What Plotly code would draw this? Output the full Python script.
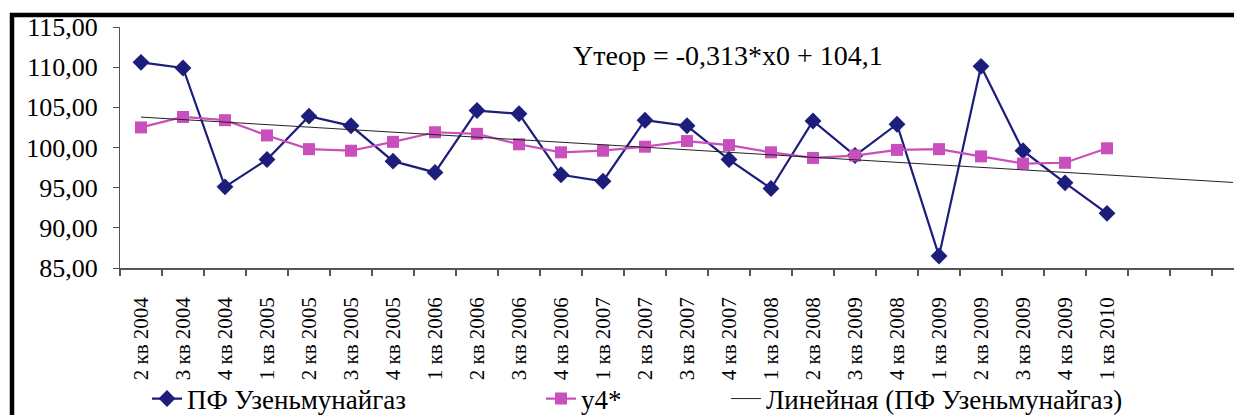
import plotly.graph_objects as go

# ---- data ----
categories = ["2 кв 2004", "3 кв 2004", "4 кв 2004", "1 кв 2005", "2 кв 2005", "3 кв 2005",
              "4 кв 2005", "1 кв 2006", "2 кв 2006", "3 кв 2006", "4 кв 2006", "1 кв 2007",
              "2 кв 2007", "3 кв 2007", "4 кв 2007", "1 кв 2008", "2 кв 2008", "3 кв 2009",
              "4 кв 2008", "1 кв 2009", "2 кв 2009", "3 кв 2009", "4 кв 2009", "1 кв 2010"]
uzen_values = [110.6, 109.9, 95.1, 98.5, 103.9, 102.7, 98.3, 96.9, 104.6, 104.2, 96.6, 95.8,
               103.4, 102.7, 98.5, 94.9, 103.3, 99.0, 102.9, 86.5, 110.1, 99.6, 95.6, 91.8]
y4_values = [102.5, 103.8, 103.4, 101.5, 99.8, 99.6, 100.7, 101.9, 101.7, 100.4, 99.4, 99.6,
             100.1, 100.8, 100.3, 99.4, 98.7, 99.0, 99.7, 99.8, 98.9, 98.0, 98.1, 99.9]
trend_slope = -0.313
trend_intercept = 104.1
trend_last_period = 27  # trendline forecast forward 3 periods

series_names = ["ПФ Узеньмунайгаз", "у4*", "Линейная (ПФ Узеньмунайгаз)"]
equation_text = "Yтеор = -0,313*x0 + 104,1"

# ---- build ----
x_idx = list(range(1, len(categories) + 1))
trend_x = [1, trend_last_period]
trend_y = [trend_slope * v + trend_intercept for v in trend_x]

FONT = "Liberation Serif"
BLUE = "#1d1d7c"
PINK = "#c94fbc"

fig = go.Figure()
fig.add_trace(go.Scatter(
    x=x_idx, y=uzen_values, name=series_names[0], mode="lines+markers",
    line=dict(color=BLUE, width=2.2),
    marker=dict(symbol="diamond", size=13, color=BLUE),
    legend="legend"))
fig.add_trace(go.Scatter(
    x=x_idx, y=y4_values, name=series_names[1], mode="lines+markers",
    line=dict(color=PINK, width=2.2),
    marker=dict(symbol="square", size=12, color=PINK),
    legend="legend2"))
fig.add_trace(go.Scatter(
    x=trend_x, y=trend_y, name=series_names[2], mode="lines",
    line=dict(color="#222222", width=1),
    legend="legend3"))

# the page body has an 8px default margin: work in screen pixels, offset by 8
OFF = 8
SW, SH = 1242, 415
W, H = SW - OFF, SH - OFF
L, T, B = 120 - OFF, 27 - OFF, SH - 268
R = 0
plot_w = W - L - R
plot_h = H - T - B
cat_w = 42.0
x_max = 0.5 + plot_w / cat_w


def px_x(sx):
    return (sx - OFF - L) / plot_w


def px_y(sy):
    return (H - B - (sy - OFF)) / plot_h


def cx(sx):
    return (sx - OFF) / W


def cy(sy):
    return 1 - (sy - OFF) / H


legend_common = dict(orientation="h", yanchor="middle", xanchor="left",
                     xref="container", yref="container",
                     font=dict(family=FONT, size=27, color="black"),
                     bgcolor="rgba(0,0,0,0)", borderwidth=0, itemwidth=30)
leg_y = cy(399)

fig.update_layout(
    width=W, height=H,
    margin=dict(l=L, r=R, t=T, b=B),
    paper_bgcolor="white", plot_bgcolor="white",
    separators=", ",
    font=dict(family=FONT, color="black"),
    showlegend=True,
    legend=dict(x=cx(147), y=leg_y, **legend_common),
    legend2=dict(x=cx(541), y=leg_y, **legend_common),
    legend3=dict(x=cx(726), y=leg_y, **legend_common),
    xaxis=dict(
        range=[0.5, x_max], tickmode="array", tickvals=x_idx, ticktext=categories,
        tickangle=-90, ticks="", showgrid=False, zeroline=False, automargin=False,
        showline=True, linecolor="#555555", linewidth=1.5,
        tickfont=dict(family=FONT, size=21, color="black"),
        ticklabelstandoff=19,
        minor=dict(ticks="outside", ticklen=6, tickcolor="#555555", tickwidth=1.5,
                   tickmode="linear", tick0=0.5, dtick=1, showgrid=False),
    ),
    yaxis=dict(
        range=[85, 115], dtick=5, tick0=85, tickformat=".2f", automargin=False,
        ticks="outside", ticklen=6, tickcolor="#555555", tickwidth=1.2,
        showgrid=False, zeroline=False, showline=True, linecolor="#555555", linewidth=1.2,
        tickfont=dict(family=FONT, size=26, color="black"),
        ticklabelstandoff=10,
    ),
    annotations=[dict(
        text=equation_text, xref="paper", yref="paper",
        x=px_x(571), y=px_y(55), xanchor="left", yanchor="middle", showarrow=False,
        font=dict(family=FONT, size=28, color="black"))],
    shapes=[
        dict(type="line", xref="paper", yref="paper", x0=px_x(12), x1=px_x(12),
             y0=px_y(SH + 5), y1=px_y(13), line=dict(color="black", width=4.5)),
        dict(type="line", xref="paper", yref="paper", x0=px_x(10), x1=px_x(SW + 5),
             y0=px_y(15), y1=px_y(15), line=dict(color="black", width=4.5)),
    ],
)

fig.write_html("out.html")
